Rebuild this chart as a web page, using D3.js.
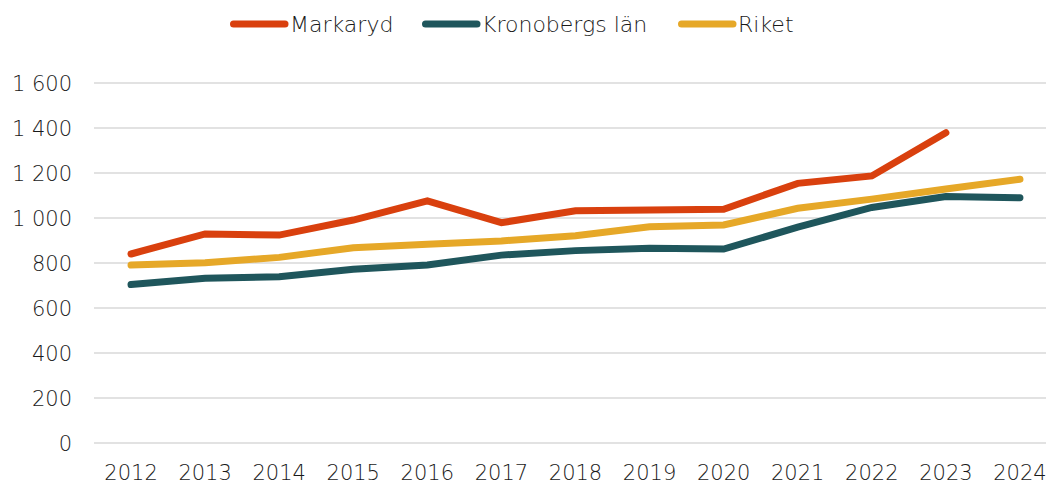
<!DOCTYPE html>
<html>
<head>
<meta charset="utf-8">
<script src="https://cdn.jsdelivr.net/npm/d3@7"></script>
<style>
  body { margin: 0; background: #fff; }
  svg text { font-family: "DejaVu Sans", sans-serif; font-weight: 200; fill: #1a1a1a; }
</style>
</head>
<body>
<svg id="chart" width="1046" height="484"></svg>
<script>
// Years on the x axis
var years = ["2012", "2013", "2014", "2015", "2016", "2017", "2018",
             "2019", "2020", "2021", "2022", "2023", "2024"];

// Series values
var markaryd = [840, 929, 924, 991, 1076, 979, 1032, 1036, 1039, 1154, 1187, 1379, null];
var kronoberg = [704, 732, 739, 772, 791, 835, 855, 865, 862, 959, 1047, 1095, 1090];
var riket = [791, 801, 825, 868, 883, 898, 921, 961, 969, 1043, 1084, 1129, 1172];

var yTicks = [0, 200, 400, 600, 800, 1000, 1200, 1400, 1600];

var series = [
    { name: "Markaryd", values: markaryd, color: "#d9400e" },
    { name: "Kronobergs län", values: kronoberg, color: "#1f565c" },
    { name: "Riket", values: riket, color: "#e6a828" }
];

var svg = d3.select("#chart");

// Plot area, the category bands run slightly past the right edge like the original
var x = d3.scaleBand().domain(years).range([94, 1057]);
var y = d3.scaleLinear().domain([0, 1600]).range([443, 83]);

// Horizontal gridlines
svg.append("g")
    .selectAll("line")
    .data(yTicks)
    .enter().append("line")
    .attr("x1", 94)
    .attr("x2", 1057)
    .attr("y1", function (d) { return y(d); })
    .attr("y2", function (d) { return y(d); })
    .style("stroke", "#d9d9d9")
    .style("stroke-width", 1.5);

// Y axis labels, space as thousands separator
var fmt = function (d) { return d3.format(",")(d).replace(",", " "); };
svg.append("g")
    .selectAll("text")
    .data(yTicks)
    .enter().append("text")
    .attr("x", 72)
    .attr("y", function (d) { return y(d); })
    .attr("dy", "0.37em")
    .attr("text-anchor", "end")
    .style("font-size", "21px")
    .text(fmt);

// X axis labels
svg.append("g")
    .selectAll("text")
    .data(years)
    .enter().append("text")
    .attr("x", function (d) { return x(d) + x.bandwidth() / 2; })
    .attr("y", 480)
    .attr("text-anchor", "middle")
    .style("font-size", "21px")
    .text(function (d) { return d; });

// Lines
var line = d3.line()
    .defined(function (d) { return d.v !== null; })
    .x(function (d) { return x(d.year) + x.bandwidth() / 2; })
    .y(function (d) { return y(d.v); });

svg.append("g")
    .selectAll("path")
    .data(series)
    .enter().append("path")
    .attr("d", function (s) {
        return line(s.values.map(function (v, i) { return { year: years[i], v: v }; }));
    })
    .style("fill", "none")
    .style("stroke", function (s) { return s.color; })
    .style("stroke-width", 7)
    .style("stroke-linecap", "round")
    .style("stroke-linejoin", "miter");

// Legend
var legendX = [230, 422, 678];
var legend = svg.append("g")
    .selectAll("g")
    .data(series)
    .enter().append("g")
    .attr("transform", function (s, i) { return "translate(" + legendX[i] + ",24)"; });

legend.append("line")
    .attr("x1", 3.5)
    .attr("x2", 55)
    .style("stroke", function (s) { return s.color; })
    .style("stroke-width", 7)
    .style("stroke-linecap", "round");

legend.append("text")
    .attr("x", 60)
    .attr("dy", "0.37em")
    .style("font-size", "22px")
    .text(function (s) { return s.name; });
</script>
</body>
</html>
